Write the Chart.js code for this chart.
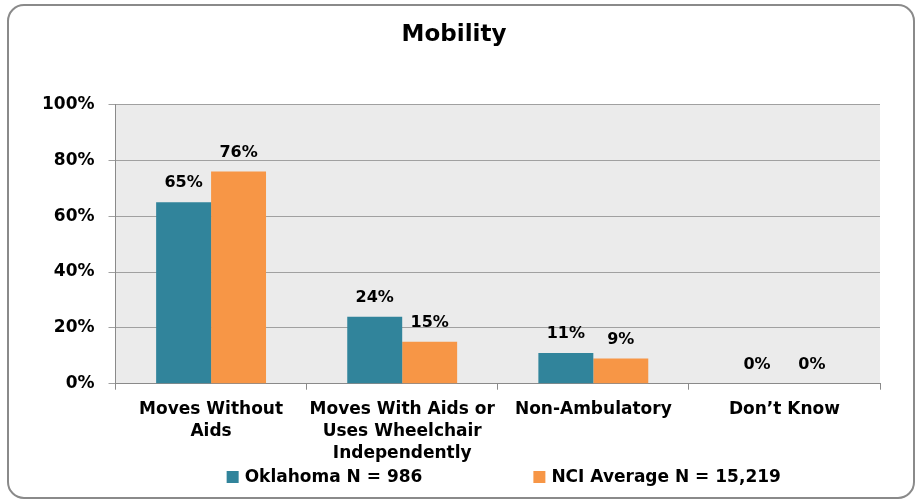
<!DOCTYPE html>
<html>
<head>
<meta charset="utf-8">
<script src="https://cdn.jsdelivr.net/npm/chart.js@4/dist/chart.umd.min.js"></script>
<style>
  html, body { margin: 0; padding: 0; background: #fff; }
  canvas { display: block; }
</style>
</head>
<body>
<canvas id="mobility-chart" width="923" height="502"></canvas>
<script>
var categories = [
    ['Moves Without', 'Aids'],
    ['Moves With Aids or', 'Uses Wheelchair', 'Independently'],
    'Non-Ambulatory',
    'Don\u2019t Know'
];
var oklahoma = [65, 24, 11, 0];
var nciAverage = [76, 15, 9, 0];
var seriesNames = ['Oklahoma N = 986', 'NCI Average N = 15,219'];
var yTicks = [0, 20, 40, 60, 80, 100];

var TEAL = '#31849b';
var ORANGE = '#f79646';
var FONT = "'DejaVu Sans', Verdana, sans-serif";

Chart.defaults.font.family = FONT;
Chart.defaults.color = '#000';

// frame round the whole chart + grey plot background
var framePlugin = {
    id: 'frame',
    beforeDraw: function (chart) {
        var ctx = chart.ctx;
        var a = chart.chartArea;
        ctx.save();
        ctx.fillStyle = '#ebebeb';
        ctx.fillRect(a.left, a.top, a.right - a.left, a.bottom - a.top);
        ctx.strokeStyle = '#8a8a8a';
        ctx.lineWidth = 2;
        ctx.beginPath();
        ctx.roundRect(8, 5, chart.width - 17, chart.height - 9, 16);
        ctx.stroke();
        ctx.restore();
    }
};

// value labels above the bars
var valueLabels = {
    id: 'valueLabels',
    afterDatasetsDraw: function (chart) {
        var ctx = chart.ctx;
        ctx.save();
        ctx.font = 'bold 16px ' + FONT;
        ctx.fillStyle = '#000';
        ctx.textAlign = 'center';
        ctx.textBaseline = 'middle';
        chart.data.datasets.forEach(function (ds, i) {
            chart.getDatasetMeta(i).data.forEach(function (bar, j) {
                ctx.fillText(ds.data[j] + '%', bar.x, bar.y - 19);
            });
        });
        ctx.restore();
    }
};

// legend drawn under the axis labels, spread like the original
var bottomLegend = {
    id: 'bottomLegend',
    afterDraw: function (chart) {
        var ctx = chart.ctx;
        var a = chart.chartArea;
        var box = 12, gap = 6, spacing = 111;
        ctx.save();
        ctx.font = 'bold 17px ' + FONT;
        ctx.textBaseline = 'middle';
        ctx.textAlign = 'left';
        var widths = chart.data.datasets.map(function (ds) {
            return box + gap + ctx.measureText(ds.label).width;
        });
        var total = widths.reduce(function (s, w) { return s + w; }, 0) + spacing * (widths.length - 1);
        var x = (a.left + a.right) / 2 - total / 2 + 6;
        var y = chart.height - 25;
        chart.data.datasets.forEach(function (ds, i) {
            ctx.fillStyle = ds.backgroundColor;
            ctx.fillRect(x, y - box / 2, box, box);
            ctx.fillStyle = '#000';
            ctx.fillText(ds.label, x + box + gap, y + 1);
            x += widths[i] + spacing;
        });
        ctx.restore();
    }
};

var ctx = document.getElementById('mobility-chart').getContext('2d');
var chart = new Chart(ctx, {
    type: 'bar',
    data: {
        labels: categories,
        datasets: [{
            label: seriesNames[0],
            data: oklahoma,
            backgroundColor: TEAL,
            categoryPercentage: 0.575,
            barPercentage: 1
        }, {
            label: seriesNames[1],
            data: nciAverage,
            backgroundColor: ORANGE,
            categoryPercentage: 0.575,
            barPercentage: 1
        }]
    },
    options: {
        responsive: false,
        animation: false,
        devicePixelRatio: 1,
        layout: {
            padding: { left: 28, right: 43, top: 0, bottom: 28 }
        },
        plugins: {
            legend: { display: false },
            tooltip: { enabled: false },
            title: {
                display: true,
                text: 'Mobility',
                color: '#000',
                font: { size: 23, weight: 'bold' },
                padding: { top: 21, bottom: 56 }
            }
        },
        scales: {
            x: {
                grid: {
                    offset: true,
                    drawOnChartArea: false,
                    tickLength: 6,
                    color: '#8a8a8a'
                },
                border: { display: true, color: '#8a8a8a', width: 1 },
                ticks: {
                    padding: 9,
                    maxRotation: 0,
                    autoSkip: false,
                    font: { size: 17, weight: 'bold', lineHeight: 1.3 }
                }
            },
            y: {
                min: 0,
                max: 100,
                afterBuildTicks: function (axis) {
                    axis.ticks = yTicks.map(function (v) { return { value: v }; });
                },
                grid: {
                    color: '#a0a0a0',
                    tickLength: 7
                },
                border: { display: true, color: '#8a8a8a', width: 1 },
                ticks: {
                    padding: 14,
                    font: { size: 17, weight: 'bold' },
                    callback: function (v) { return v + '%'; }
                }
            }
        }
    },
    plugins: [framePlugin, valueLabels, bottomLegend]
});
</script>
</body>
</html>
